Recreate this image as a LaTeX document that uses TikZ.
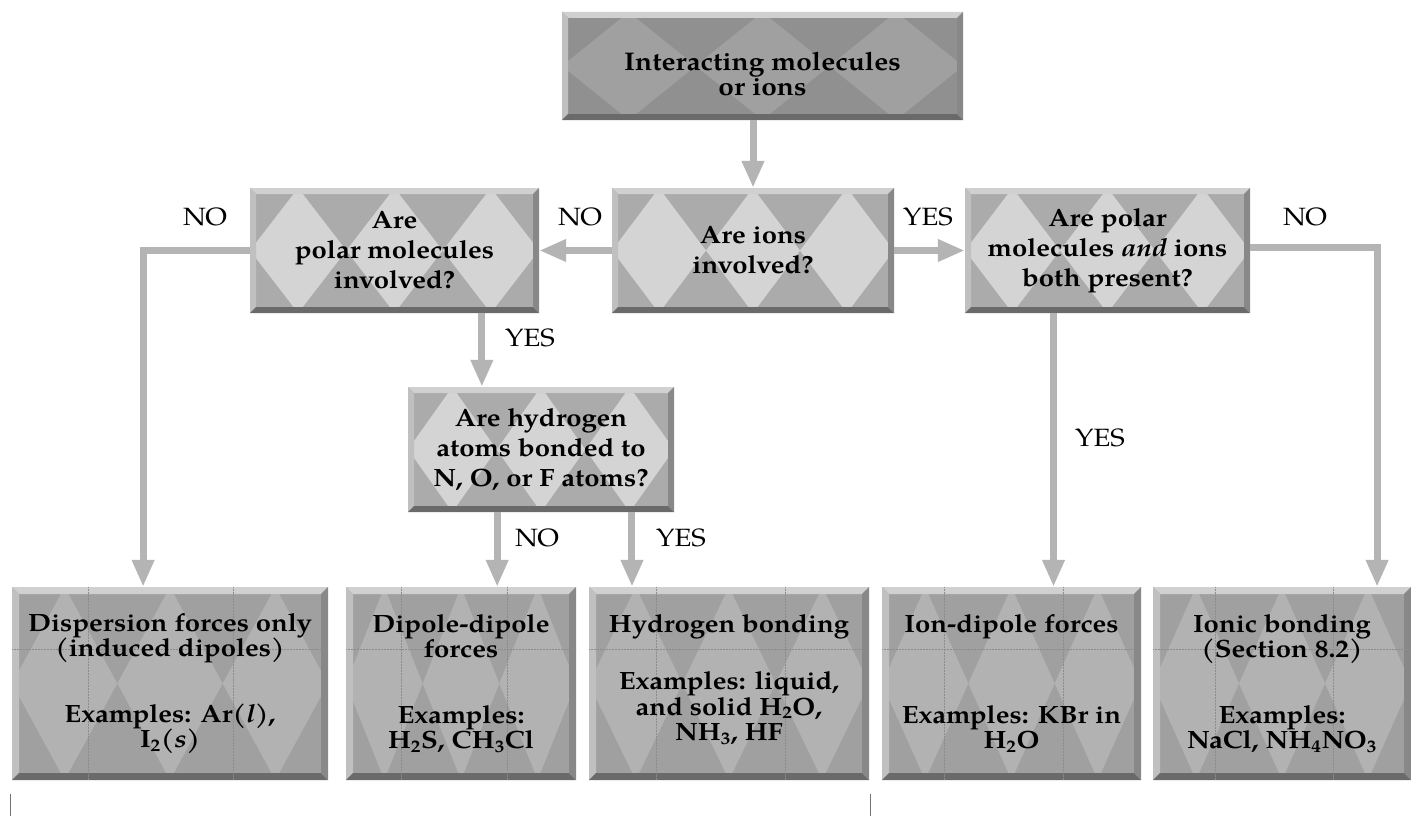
\documentclass[tikz,border=0pt]{standalone}
\usepackage{fontspec}
\setmainfont{TeX Gyre Pagella}[FakeStretch=1.1]
\usetikzlibrary{arrows.meta,calc}
\definecolor{topbase}{HTML}{909090}
\definecolor{topdia}{HTML}{A0A0A0}
\definecolor{midbase}{HTML}{ABABAB}
\definecolor{middia}{HTML}{D4D4D4}
\definecolor{botbase}{HTML}{A0A0A0}
\definecolor{botdia}{HTML}{B2B2B2}
\definecolor{bevlight}{HTML}{D0D0D0}
\definecolor{bevside}{HTML}{C0C0C0}
\definecolor{bevdark}{HTML}{6A6A6A}
\definecolor{bevright}{HTML}{888888}
\definecolor{arrgray}{HTML}{B4B4B4}
\newcommand\boxdeco[2]{%
  \path (path picture bounding box.north west) coordinate (q1)
        (path picture bounding box.north east) coordinate (q2)
        (path picture bounding box.south east) coordinate (q3)
        (path picture bounding box.south west) coordinate (q4)
        (path picture bounding box.west) coordinate (qw)
        (path picture bounding box.east) coordinate (qe);
  \foreach \k in {1,3,5}{%
    \fill[#1] ($(q1)!{\k/6}!(q2)$) -- ($(qw)!{(\k+1)/6}!(qe)$)
      -- ($(q4)!{\k/6}!(q3)$) -- ($(qw)!{(\k-1)/6}!(qe)$) -- cycle;}
  \fill[bevlight] (q1) -- (q2) -- ([shift={(-#2,-#2)}]q2) -- ([shift={(#2,-#2)}]q1) -- cycle;
  \fill[bevside] (q1) -- ([shift={(#2,-#2)}]q1) -- ([shift={(#2,#2)}]q4) -- (q4) -- cycle;
  \fill[bevdark] (q4) -- (q3) -- ([shift={(-#2,#2)}]q3) -- ([shift={(#2,#2)}]q4) -- cycle;
  \fill[bevright] (q2) -- (q3) -- ([shift={(-#2,#2)}]q3) -- ([shift={(-#2,-#2)}]q2) -- cycle;
}
\newcommand\botlines{%
  \draw[black!45, line width=0.5pt, densely dotted] ($(q1)!0.32!(q4)$) -- ($(q2)!0.32!(q3)$);
  \draw[black!45, line width=0.5pt, densely dotted] ($(q1)!0.24!(q2)$) -- ($(q4)!0.24!(q3)$);
  \draw[black!45, line width=0.5pt, densely dotted] ($(q1)!0.7!(q2)$) -- ($(q4)!0.7!(q3)$);
}
\tikzset{
  topbox/.style={rectangle, inner sep=0pt, align=center, fill=topbase,
    font=\bfseries\fontsize{25.5}{25}\selectfont,
    path picture={\boxdeco{topdia}{6pt}}},
  midbox/.style={rectangle, inner sep=0pt, align=center, fill=midbase,
    font=\bfseries\fontsize{25}{30}\selectfont,
    path picture={\boxdeco{middia}{6pt}}},
  botbox/.style={rectangle, inner sep=0pt, align=center, fill=botbase,
    font=\bfseries\fontsize{25}{25.5}\selectfont,
    minimum height=193pt,
    path picture={\boxdeco{botdia}{7pt}\botlines}},
  lbl/.style={inner sep=0pt, font=\fontsize{25}{25}\selectfont},
  arr/.style={draw=arrgray, line width=7pt, line join=miter,
    -{Triangle[width=21pt,length=27pt]}},
  scratch/.style={draw=black!55, line width=0.8pt}
}
\begin{document}
\begin{tikzpicture}[x=1pt,y=-1pt]
\useasboundingbox (0,0) rectangle (1411,816);
\fill[white] (0,0) rectangle (1411,816);

% decision boxes
\node[topbox, minimum width=401pt, minimum height=108pt] (top) at (762.5,66)
  {\mbox{}\\[9pt]Interacting molecules\\or ions};
\node[midbox, minimum width=289pt, minimum height=125pt] (polar) at (394.5,250.5)
  {Are\\polar molecules\\involved?};
\node[midbox, minimum width=282pt, minimum height=125pt] (ions) at (753,250.5)
  {Are ions\\involved?};
\node[midbox, minimum width=285pt, minimum height=125pt] (both) at (1107.5,250.5)
  {Are polar\\molecules \textit{and} ions\\both present?};
\node[midbox, minimum width=266pt, minimum height=125pt] (hyd) at (541,449.5)
  {Are hydrogen\\atoms bonded to\\N, O, or F atoms?};

% result boxes
\node[botbox, minimum width=316pt] (disp) at (170,683.5)
  {Dispersion forces only\\(induced dipoles)\\[40pt]Examples: Ar(\textit{l}),\\I\textsubscript{2}(\textit{s})};
\node[botbox, minimum width=230pt] (dip) at (461,683.5)
  {Dipole-dipole\\forces\\[40pt]Examples:\\H\textsubscript{2}S, CH\textsubscript{3}Cl};
\node[botbox, minimum width=280pt] (hb) at (729,683.5)
  {Hydrogen bonding\\[32pt]Examples: liquid,\\and solid H\textsubscript{2}O,\\NH\textsubscript{3}, HF\\[-13pt]\mbox{}};
\node[botbox, minimum width=259pt] (iond) at (1011.5,683.5)
  {Ion-dipole forces\\[65.5pt]Examples: KBr in\\H\textsubscript{2}O};
\node[botbox, minimum width=258pt] (ionic) at (1282,683.5)
  {Ionic bonding\\(Section 8.2)\\[40pt]Examples:\\NaCl, NH\textsubscript{4}NO\textsubscript{3}};

% connector anchor points
\coordinate (hx) at ($(hyd.north west)!0.278!(hyd.north east)$);
\coordinate (dx) at ($(disp.north west)!0.415!(disp.north east)$);
\coordinate (dipx) at ($(dip.north west)!0.657!(dip.north east)$);
\coordinate (hbx) at ($(hb.north west)!0.154!(hb.north east)$);
\coordinate (idx) at ($(iond.north west)!0.662!(iond.north east)$);
\coordinate (icx) at ($(ionic.north west)!0.868!(ionic.north east)$);

% connectors
\draw[arr] (top.south -| ions.north) -- (ions.north);
\draw[arr] (ions.west) -- (polar.east);
\draw[arr] (ions.east) -- (both.west);
\draw[arr] (polar.west) -| (dx);
\draw[arr] (polar.south -| hx) -- (hx);
\draw[arr] (hyd.south -| dipx) -- (dipx);
\draw[arr] (hyd.south -| hbx) -- (hbx);
\draw[arr] (both.south -| idx) -- (idx);
\draw[arr] ([yshift=3pt]both.east) -| (icx);

% labels
\node[lbl] (l1) at (205,217) {NO};
\node[lbl] (l2) at (580,217) {NO};
\node[lbl] (l3) at (928,217) {YES};
\node[lbl] (l4) at (1305,217) {NO};
\node[lbl] (l5) at (530,338) {YES};
\node[lbl] (l6) at (537,538) {NO};
\node[lbl] (l7) at (681,538) {YES};
\node[lbl] (l8) at (1100,438) {YES};

% scan marks below the boxes
\coordinate (s1) at (10,794);
\coordinate (s2) at (10,816);
\coordinate (s3) at (870,794);
\coordinate (s4) at (870,816);
\draw[scratch] (s1) -- (s2);
\draw[scratch] (s3) -- (s4);
\end{tikzpicture}
\end{document}
